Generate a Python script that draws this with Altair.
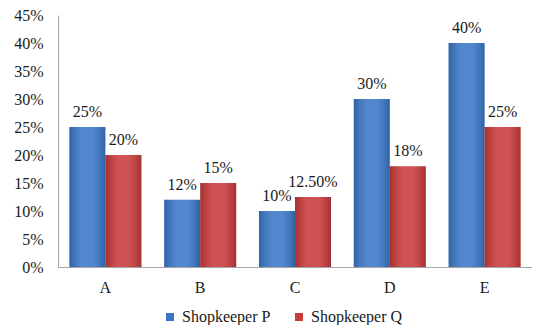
import altair as alt
import pandas as pd

categories = ["A", "B", "C", "D", "E"]
series_names = ["Shopkeeper P", "Shopkeeper Q"]
p_values = [25, 12, 10, 30, 40]
q_values = [20, 15, 12.5, 18, 25]
p_labels = ["25%", "12%", "10%", "30%", "40%"]
q_labels = ["20%", "15%", "12.50%", "18%", "25%"]
y_ticks = [0, 5, 10, 15, 20, 25, 30, 35, 40, 45]

rows = []
for c, v, l in zip(categories, p_values, p_labels):
    rows.append({"cat": c, "series": series_names[0], "value": v, "label": l})
for c, v, l in zip(categories, q_values, q_labels):
    rows.append({"cat": c, "series": series_names[1], "value": v, "label": l})
df = pd.DataFrame(rows)

FONT = "Liberation Serif"

base = alt.Chart(df).encode(
    x=alt.X("cat:N", sort=categories, title=None,
            scale=alt.Scale(paddingInner=0.24, paddingOuter=0.12),
            axis=alt.Axis(labelAngle=0, ticks=False, domainColor="#A6A6A6",
                          labelColor="#1a1a1a", labelPadding=12)),
    y=alt.Y("value:Q", title=None,
            scale=alt.Scale(domain=[0, 45], nice=False),
            axis=alt.Axis(values=y_ticks, labelExpr="datum.value + '%'", grid=False,
                          ticks=False, domainColor="#A6A6A6", labelOverlap=False,
                          labelColor="#1a1a1a", labelPadding=15)),
    xOffset=alt.XOffset("series:N", sort=series_names),
)

bars = base.mark_bar(size=36).encode(
    color=alt.Color("series:N", sort=series_names,
                    scale=alt.Scale(domain=series_names, range=["#3A77C8", "#C93A3A"]),
                    legend=alt.Legend(title=None, orient="none", direction="horizontal",
                                      legendX=104, legendY=294, symbolType="square",
                                      symbolSize=64, labelColor="#1a1a1a",
                                      columnPadding=20, symbolStrokeWidth=0))
)

shade = base.mark_bar(
    size=36,
    fill=alt.Gradient(
        gradient="linear", x1=0, x2=1, y1=0, y2=0,
        stops=[alt.GradientStop(color="rgba(0,0,0,0.18)", offset=0),
               alt.GradientStop(color="rgba(255,255,255,0.12)", offset=0.35),
               alt.GradientStop(color="rgba(255,255,255,0.12)", offset=0.65),
               alt.GradientStop(color="rgba(0,0,0,0.18)", offset=1)])
)

labels = base.mark_text(baseline="bottom", dy=-7, color="#1a1a1a", fontSize=16).encode(
    text="label:N")

chart = alt.layer(bars, shade, labels).properties(
    width=474, height=252,
    autosize=alt.AutoSizeParams(type="none"),
    padding={"left": 50, "top": 7, "right": 0, "bottom": 58},
).configure(
    background="white", font=FONT
).configure_view(
    strokeWidth=0
).configure_axis(
    labelFont=FONT, labelFontSize=16
).configure_legend(
    labelFont=FONT, labelFontSize=16
).configure_text(font=FONT)

chart.save("out.html", embed_options={"renderer": "svg", "actions": False})
